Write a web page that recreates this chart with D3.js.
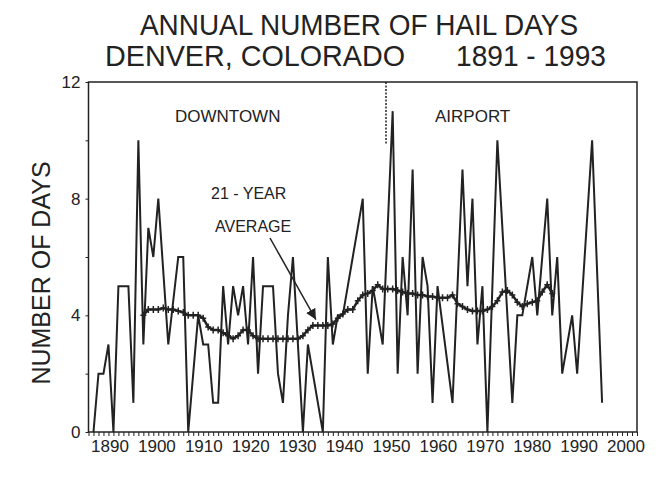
<!DOCTYPE html>
<html>
<head>
<meta charset="utf-8">
<script src="https://cdn.jsdelivr.net/npm/d3@7"></script>
<style>
body { margin: 0; background: #fff; }
svg text { font-family: "Liberation Sans", Arial, sans-serif; fill: #222; }
</style>
</head>
<body>
<script>
// annual hail days, one value per year from 1891 (null = no point plotted)
var firstYear = 1891;
var hailDays = [
    0, 2, 2, 3, 0, 5, 5, 5, 1, 10,          // 1891-1900
    3, 7, 6, 8, null, 3, null, 6, 6, 0,     // 1901-1910
    2, 4, 3, 3, 1, 1, 5, 3, 5, 4,           // 1911-1920
    5, 3, 6, 2, 5, 5, 5, 2, 1, 4,           // 1921-1930
    6, 3, 0, 3, 2, 1, 0, 6, 3, 4,           // 1931-1940
    4, 5, 6, 7, 8, 2, 5, 4, 3, null,        // 1941-1950
    11, 2, 6, 4, 9, 2, 6, 5, 1, 5,          // 1951-1960
    null, null, 1, null, 9, 5, 8, 3, 5, 0,  // 1961-1970
    null, 10, null, null, 1, 4, 4, null, 6, 4, // 1971-1980
    null, 8, 4, 6, 2, 3, 4, 2, null, null,  // 1981-1990
    10, null, 1                             // 1991-1993
];

// 21-year running average, 1901-1983
var avgStart = 1901;
var avgDays = [
    4.0, 4.2, 4.2, 4.2, 4.25, 4.2, 4.2, 4.15, 4.1, 4.0,      // 1901-1910
    4.0, 4.0, 3.9, 3.6, 3.5, 3.5, 3.4, 3.3, 3.2, 3.3,        // 1911-1920
    3.5, 3.5, 3.3, 3.2, 3.2, 3.2, 3.2, 3.2, 3.2, 3.2,        // 1921-1930
    3.2, 3.2, 3.3, 3.5, 3.65, 3.65, 3.65, 3.65, 3.7, 3.9,    // 1931-1940
    4.05, 4.2, 4.2, 4.5, 4.7, 4.75, 4.85, 5.05, 4.9, 4.9,    // 1941-1950
    4.9, 4.85, 4.8, 4.75, 4.75, 4.7, 4.7, 4.65, 4.65, 4.6,   // 1951-1960
    4.6, 4.6, 4.7, 4.4, 4.3, 4.2, 4.15, 4.15, 4.15, 4.2,     // 1961-1970
    4.3, 4.5, 4.8, 4.85, 4.7, 4.45, 4.3, 4.4, 4.45, 4.5,     // 1971-1980
    4.8, 5.05, 4.75                                          // 1981-1983
];

var xTicks = d3.range(1890, 2001, 10);
var yTicks = [0, 4, 8, 12];

var width = 665,
    height = 481;
var svg = d3.select("body").append("svg").attr("width", width).attr("height", height);

var x = d3.scaleLinear().domain([1890, 2000]).range([88.5, 637]);
var y = d3.scaleLinear().domain([0, 12]).range([432, 82]);
// the decade labels in the original sit a little tighter than the ticks
var xLabel = d3.scaleLinear().domain([1890, 2000]).range([110, 626]);

// title
svg.append("text").attr("x", 140).attr("y", 35)
    .attr("textLength", 438).attr("lengthAdjust", "spacingAndGlyphs")
    .style("font-size", "30px")
    .text("ANNUAL NUMBER OF HAIL DAYS");
svg.append("text").attr("x", 105).attr("y", 66)
    .attr("textLength", 300).attr("lengthAdjust", "spacingAndGlyphs")
    .style("font-size", "30px")
    .text("DENVER,  COLORADO");
svg.append("text").attr("x", 456).attr("y", 66)
    .attr("textLength", 150).attr("lengthAdjust", "spacingAndGlyphs")
    .style("font-size", "30px")
    .text("1891 - 1993");

// frame
svg.append("rect")
    .attr("x", x(1890)).attr("y", y(12))
    .attr("width", x(2000) - x(1890)).attr("height", y(0) - y(12))
    .attr("fill", "none").attr("stroke", "#222").attr("stroke-width", 1.5);

// axes
var xAxis = svg.append("g")
    .attr("transform", "translate(0," + y(0) + ")")
    .call(d3.axisBottom(x)
        .tickValues(d3.range(1890, 2001))
        .tickSize(4)
        .tickFormat(""));
xAxis.select(".domain").remove();
xAxis.selectAll("line").attr("stroke", "#222");
svg.append("g").selectAll("text")
    .data(xTicks)
    .enter().append("text")
    .attr("x", (d) => xLabel(d))
    .attr("y", 452)
    .attr("text-anchor", "middle")
    .style("font-size", "17px")
    .text((d) => d);

var yAxis = svg.append("g")
    .attr("transform", "translate(" + x(1890) + ",0)")
    .call(d3.axisLeft(y)
        .tickValues(d3.range(0, 13, 2))
        .tickSize(3)
        .tickFormat((d) => yTicks.indexOf(d) >= 0 ? d : ""));
yAxis.select(".domain").remove();
yAxis.selectAll("line").attr("stroke", "#222");
yAxis.selectAll("text").style("font-size", "17px").attr("x", -8);

svg.append("text")
    .attr("transform", "translate(50,273) rotate(-90)")
    .attr("text-anchor", "middle")
    .style("font-size", "25px")
    .text("NUMBER OF DAYS");

// labels inside the plot
svg.append("text").attr("x", 175).attr("y", 122).style("font-size", "17px").text("DOWNTOWN");
svg.append("text").attr("x", 435).attr("y", 122).style("font-size", "17px").text("AIRPORT");
svg.append("text").attr("x", 211).attr("y", 199).style("font-size", "16px").text("21 - YEAR");
svg.append("text").attr("x", 215).attr("y", 232).style("font-size", "16px").text("AVERAGE");

// downtown / airport split
svg.append("line")
    .attr("x1", 386).attr("x2", 386).attr("y1", y(12)).attr("y2", 145)
    .attr("stroke", "#222").attr("stroke-width", 1.5).attr("stroke-dasharray", "2,1.5");

// raw series
var raw = hailDays.map((v, i) => ({ year: firstYear + i, value: v }))
    .filter((d) => d.value != null);
var line = d3.line().x((d) => x(d.year)).y((d) => y(d.value));
svg.append("path")
    .datum(raw)
    .attr("d", line)
    .attr("fill", "none")
    .attr("stroke", "#222")
    .attr("stroke-width", 2)
    .attr("stroke-linejoin", "miter");

// running average with + markers
var avg = avgDays.map((v, i) => ({ year: avgStart + i, value: v }));
svg.append("path")
    .datum(avg)
    .attr("d", line)
    .attr("fill", "none")
    .attr("stroke", "#222")
    .attr("stroke-width", 2.5);
svg.append("g").selectAll("path")
    .data(avg)
    .enter().append("path")
    .attr("d", (d) => "M" + (x(d.year) - 3) + "," + y(d.value) + "h6M" + x(d.year) + "," + (y(d.value) - 3.5) + "v7")
    .attr("stroke", "#222")
    .attr("stroke-width", 1.5);

// arrow pointing at the average
svg.append("defs").append("marker")
    .attr("id", "head")
    .attr("viewBox", "0 0 10 10")
    .attr("refX", 10).attr("refY", 5)
    .attr("markerWidth", 7).attr("markerHeight", 7)
    .attr("orient", "auto")
    .append("path").attr("d", "M0,0L10,5L0,10z").attr("fill", "#222");
svg.append("line")
    .attr("x1", 270).attr("y1", 238)
    .attr("x2", x(1936) - 2).attr("y2", y(3.65) - 6)
    .attr("stroke", "#222").attr("stroke-width", 1.5)
    .attr("marker-end", "url(#head)");
</script>
</body>
</html>
